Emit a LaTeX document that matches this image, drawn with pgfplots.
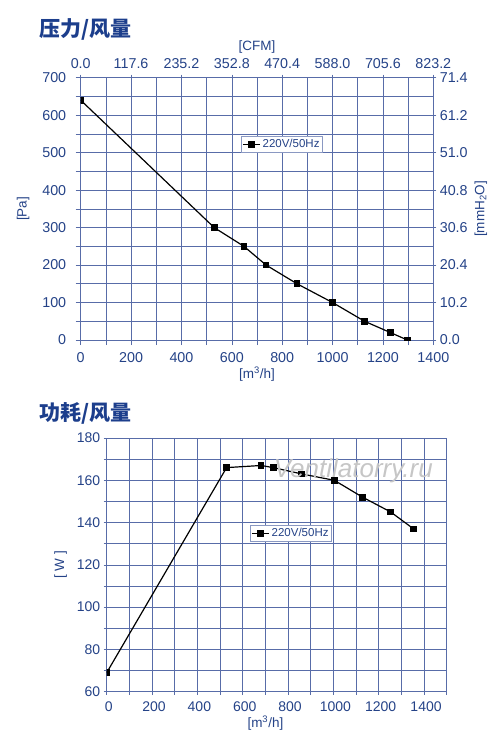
\documentclass[border=0pt]{standalone}
\usepackage{pgfplots}
\pgfplotsset{compat=1.18}
\usepackage{fontspec}
\setmainfont{Liberation Sans}
\newfontfamily\cjk{Noto Sans CJK SC}
\definecolor{txtblue}{RGB}{36,66,135}
\definecolor{ttlblue}{RGB}{28,62,140}
\definecolor{gridblue}{RGB}{88,108,168}
\pgfplotsset{
  base/.style={
    scale only axis,
    axis line style={gridblue, line width=0.7pt},
    grid=major,
    major grid style={gridblue, line width=0.6pt},
    tick style={gridblue, line width=0.6pt},
    tick align=outside,
    major tick length=5pt,
    xtick pos=bottom, ytick pos=left,
    ticklabel style={font=\fontsize{14.3}{15}\selectfont, text=txtblue},
    label style={font=\fontsize{13.5}{14}\selectfont, text=txtblue},
    clip marker paths=true,
    legend style={draw=gridblue!70, fill=white, font=\fontsize{11.5}{12}\selectfont, text=txtblue, inner sep=1pt, row sep=-1pt, line width=0.5pt},
  },
  curve/.style={black, line width=1.2pt, mark=square*, mark size=2.8pt, mark options={solid}},
}
\begin{document}
\begin{tikzpicture}
\path[use as bounding box] (0,0) rectangle (500pt,-746pt);
\node[anchor=west, text=ttlblue, font=\fontsize{21}{23}\selectfont\cjk\bfseries] at (36pt,-29pt) {压力/风量};
\node[anchor=west, text=ttlblue, font=\fontsize{21}{23}\selectfont\cjk\bfseries] at (36pt,-413pt) {功耗/风量};

% ---------- top chart ----------
\begin{axis}[base,
  at={(80.7pt,-340pt)}, anchor=south west,
  width=352.6pt, height=262.3pt,
  xmin=0, xmax=1400, ymin=0, ymax=700,
  xtick={0,100,...,1400},
  xticklabels={0,,200,,400,,600,,800,,1000,,1200,,1400},
  ytick={0,50,...,700},
  yticklabels={0,,100,,200,,300,,400,,500,,600,,700},
  xticklabel style={yshift=-4pt},
  yticklabel style={xshift=-6pt},
  xlabel={[m\textsuperscript{3}/h]},
  ylabel={[Pa]},
  xlabel style={yshift=3pt},
  ylabel style={yshift=6pt},
  legend style={at={(axis cs:799,522)}, anchor=center},
]
\addplot[curve] coordinates {
(0,640) (530,300) (648,250) (736,200) (859,150) (1000,100) (1127,50) (1229,20) (1297,0)
};
\addlegendentry{220V/50Hz}
\end{axis}
\begin{axis}[
  scale only axis,
  at={(80.7pt,-340pt)}, anchor=south west,
  width=352.6pt, height=262.3pt,
  xmin=0, xmax=823.2, ymin=0, ymax=71.4,
  axis x line*=top, axis y line*=right,
  axis line style={draw=none},
  tick style={gridblue, line width=0.6pt},
  tick align=outside, major tick length=3pt,
  xtick={0,117.6,235.2,352.8,470.4,588.0,705.6,823.2},
  xticklabels={0.0,117.6,235.2,352.8,470.4,588.0,705.6,823.2},
  ytick={0,10.2,20.4,30.6,40.8,51.0,61.2,71.4},
  yticklabels={0.0,10.2,20.4,30.6,40.8,51.0,61.2,71.4},
  ticklabel style={font=\fontsize{14.3}{15}\selectfont, text=txtblue},
  xticklabel style={yshift=3pt},
  label style={font=\fontsize{13.5}{14}\selectfont, text=txtblue},
  xlabel={[CFM]},
  ylabel={[mmH\textsubscript{2}O]},
  xlabel style={yshift=-2pt},
]
\addplot[draw=none] coordinates {(0,0)};
\end{axis}

% ---------- bottom chart ----------
\begin{axis}[base,
  at={(106.7pt,-691.7pt)}, anchor=south west,
  width=340pt, height=253.7pt,
  xmin=0, xmax=1500, ymin=60, ymax=180,
  xtick={0,100,...,1500},
  xticklabels={0,,200,,400,,600,,800,,1000,,1200,,1400,},
  ytick={60,70,...,180},
  yticklabels={60,,80,,100,,120,,140,,160,,180},
  ticklabel style={font=\fontsize{14}{15}\selectfont},
  xticklabel style={yshift=-3pt, xshift=2pt},
  xlabel={[m\textsuperscript{3}/h]},
  ylabel={[ W ]},
  major tick length=3pt,
  xlabel style={at={(ticklabel cs:0.4667)}, yshift=2pt},
  ylabel style={yshift=3pt},
  legend style={at={(axis cs:813,135)}, anchor=center},
]
\addplot[curve] coordinates {
(0,69) (529,166) (681,167) (735,166) (860,163) (1004,160) (1129,152) (1253,145) (1354,137)
};
\addlegendentry{220V/50Hz}
\node[text=gray!45, font=\fontsize{26}{27}\selectfont\itshape] at (axis cs:1088,164.5) {Ventilatorry.ru};
\end{axis}
\end{tikzpicture}
\end{document}
